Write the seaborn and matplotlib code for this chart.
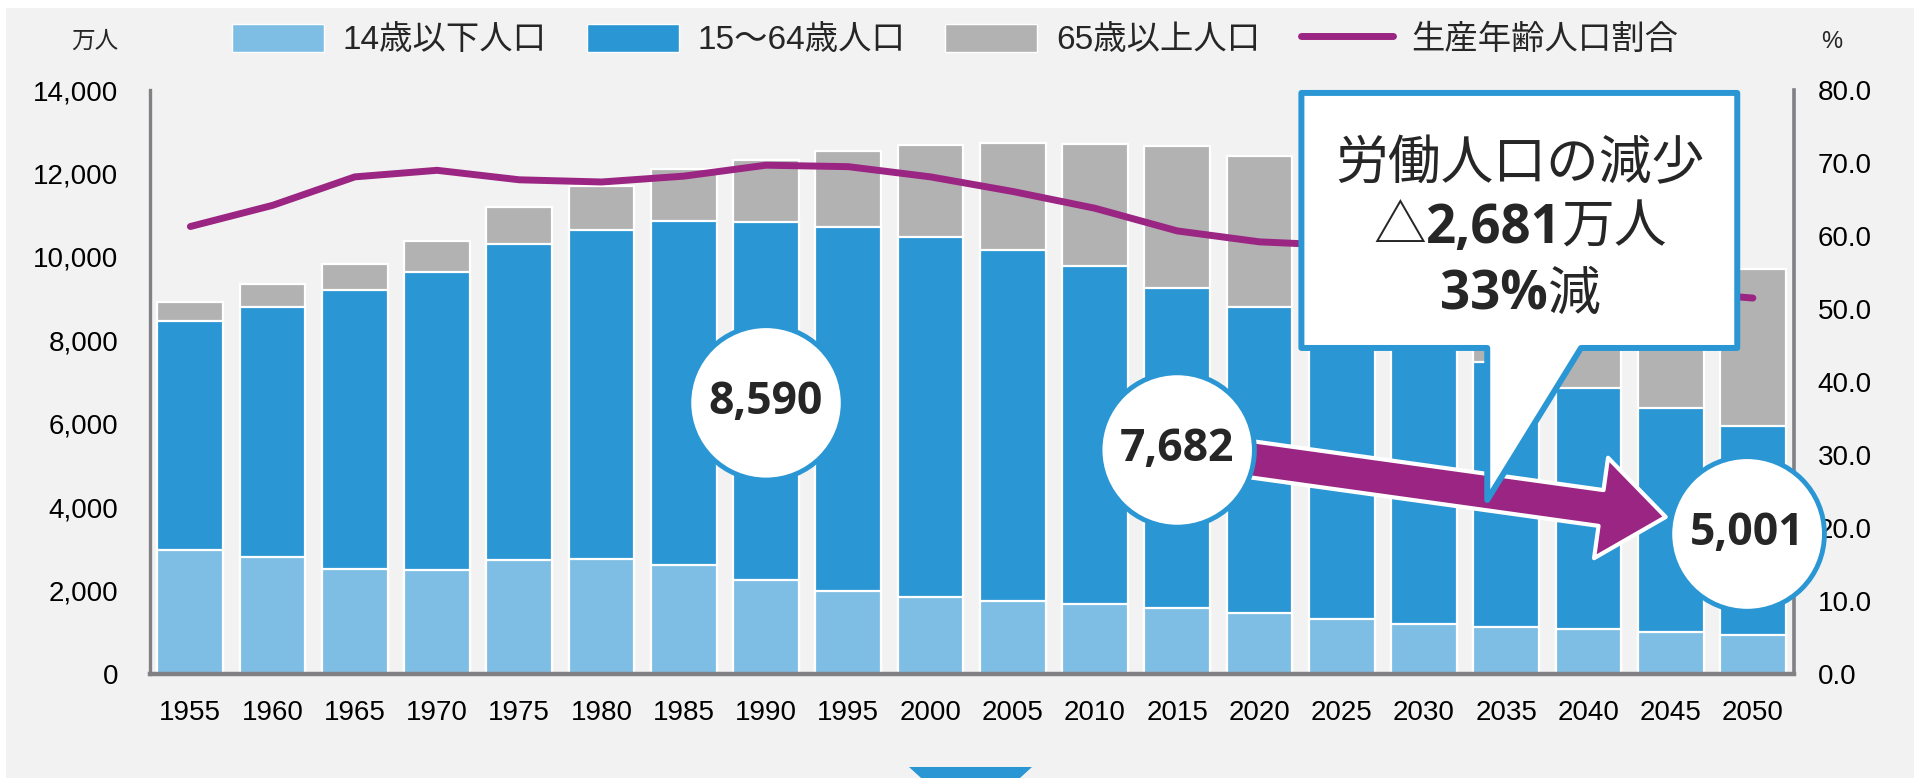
#生産年齢人口の推移 (1955-2050)
import numpy as np
import pandas as pd
import seaborn as sns
from matplotlib import pyplot as plt
from matplotlib.patches import Patch, Polygon, Rectangle, FancyArrowPatch
from matplotlib.lines import Line2D
from matplotlib.ticker import FuncFormatter, FormatStrFormatter

#data (万人)
years = ['1955', '1960', '1965', '1970', '1975', '1980', '1985', '1990', '1995', '2000',
         '2005', '2010', '2015', '2020', '2025', '2030', '2035', '2040', '2045', '2050']
young = [2980, 2807, 2517, 2482, 2722, 2751, 2603, 2249, 2001, 1847,
         1752, 1684, 1583, 1457, 1324, 1204, 1129, 1073, 1012, 939]
working = [5473, 6000, 6693, 7157, 7581, 7883, 8251, 8590, 8716, 8622,
           8409, 8103, 7682, 7341, 7085, 6773, 6343, 5787, 5353, 5001]
elderly = [475, 535, 618, 733, 887, 1065, 1247, 1489, 1826, 2201,
           2567, 2925, 3395, 3612, 3657, 3685, 3741, 3868, 3856, 3768]
#生産年齢人口割合 (%)
ratio = [61.3, 64.2, 68.1, 69.0, 67.7, 67.4, 68.2, 69.7, 69.5, 68.1,
         66.1, 63.8, 60.7, 59.2, 58.7, 58.1, 56.6, 53.9, 52.4, 51.5]
labels = ['14歳以下人口', '15～64歳人口', '65歳以上人口', '生産年齢人口割合']

light = '#7FBEE4'
blue = '#2A96D4'
gray = '#B2B2B2'
purple = '#9B2582'
bg = '#F2F2F2'
axis_col = '#808085'

sns.set_style('white')
plt.rcParams['font.family'] = ['Liberation Sans', 'Noto Sans CJK JP', 'DejaVu Sans']

df = pd.DataFrame({'year': years, 'young': young, 'working': working, 'elderly': elderly})
df['lower'] = df['young'] + df['working']
df['total'] = df['lower'] + df['elderly']

fig = plt.figure(figsize=(19.14, 7.78), dpi=100, facecolor=bg)
#white strips top / left
fig.add_artist(Rectangle((0, 1 - 8 / 778), 1, 8 / 778, transform=fig.transFigure, fc='white', ec='none'))
fig.add_artist(Rectangle((0, 0), 6 / 1914, 1, transform=fig.transFigure, fc='white', ec='none'))

ax = fig.add_axes([0.0784, 0.1337, 0.8589, 0.7506])
ax.set_facecolor(bg)

#stacked bars drawn back to front
for col, c in [('total', gray), ('lower', blue), ('young', light)]:
    sns.barplot(data=df, x='year', y=col, color=c, saturation=1, width=0.8,
                edgecolor='white', linewidth=1.6, errorbar=None, ax=ax)

ax2 = ax.twinx()
sns.lineplot(x=np.arange(len(years)), y=ratio, ax=ax2, color=purple, linewidth=5,
             solid_capstyle='round', zorder=2)

ax.set_xlim(-0.49, 19.5)
ax.set_ylim(0, 14000)
ax.set_yticks(range(0, 14001, 2000))
ax.yaxis.set_major_formatter(FuncFormatter(lambda v, p: f'{int(v):,}'))
ax2.set_ylim(0, 80)
ax2.set_yticks(range(0, 81, 10))
ax2.yaxis.set_major_formatter(FormatStrFormatter('%.1f'))
for a in (ax, ax2):
    a.set_xlabel('')
    a.set_ylabel('')
    for s in a.spines.values():
        s.set_visible(False)
ax.spines['left'].set_visible(True)
ax.spines['bottom'].set_visible(True)
ax2.spines['right'].set_visible(True)
ax.spines['left'].set_color(axis_col)
ax.spines['left'].set_linewidth(2.4)
ax.spines['bottom'].set_color(axis_col)
ax.spines['bottom'].set_linewidth(3.2)
ax2.spines['right'].set_color(axis_col)
ax2.spines['right'].set_linewidth(2.6)
ax.tick_params(axis='x', length=0, labelsize=20, pad=19, colors='black')
ax.tick_params(axis='y', length=0, labelsize=20, pad=23, colors='black')
ax2.tick_params(axis='y', length=0, labelsize=20, pad=17, colors='black')

#unit labels
fig.text(95 / 1914, 1 - 42 / 778, '万人', ha='center', va='center', fontsize=17)
fig.text(1832 / 1914, 1 - 42 / 778, '%', ha='center', va='center', fontsize=17)

#legend
handles = [Patch(fc=light), Patch(fc=blue), Patch(fc=gray), Line2D([], [], color=purple, lw=5)]
fig.legend(handles, labels, loc='center', bbox_to_anchor=(0.499, 1 - 40 / 778), ncol=4,
           frameon=False, fontsize=24, handlelength=2.76, handleheight=0.96,
           handletextpad=0.57, columnspacing=1.2)

#arrow 7,682 -> 5,001
arrow = FancyArrowPatch(posA=(12, 5394), posB=(17.94, 3764), transform=ax.transData,
                        arrowstyle='simple,head_length=0.47,head_width=0.73,tail_width=0.26',
                        mutation_scale=100, fc=purple, ec='white', lw=3,
                        shrinkA=0, shrinkB=0, zorder=4, clip_on=False)
ax2.add_patch(arrow)

#circles
for txt, xy in [('8,590', (7, 6500)), ('7,682', (12, 5370)), ('5,001', (18.93, 3357))]:
    ax2.annotate(txt, xy=xy, xycoords=ax.transData, ha='center', va='center',
                 fontsize=32, fontweight='bold', family=['Open Sans', 'DejaVu Sans'],
                 bbox=dict(boxstyle='circle,pad=0.45', fc='white', ec=blue, lw=3.5),
                 zorder=5, annotation_clip=False)

#callout
callout = Polygon([(13.51, 13930), (18.81, 13930), (18.81, 7816), (16.91, 7816),
                   (15.77, 4172), (15.77, 7816), (13.51, 7816)],
                  closed=True, transform=ax.transData, fc='white', ec=blue, lw=4.3,
                  joinstyle='round', zorder=6, clip_on=False)
ax2.add_patch(callout)


def mixed_line(x, y, parts, size):
    arts = []
    for s, bold in parts:
        fam = ['Open Sans', 'Noto Sans CJK JP'] if bold else ['Noto Sans CJK JP', 'DejaVu Sans']
        t = ax2.annotate(s, xy=(x, y), xycoords=ax.transData, xytext=(0, 0),
                         textcoords='offset points', ha='left', va='baseline',
                         fontsize=size, fontweight='bold' if bold else 'normal',
                         family=fam, zorder=7, annotation_clip=False)
        arts.append(t)
    r = fig.canvas.get_renderer()
    w = [t.get_window_extent(r).width * 72 / fig.dpi for t in arts]
    off = -sum(w) / 2
    for t, wi in zip(arts, w):
        t.xyann = (off, 0)
        off += wi


mixed_line(16.17, 11868, [('労働人口の減少', False)], 38)
mixed_line(16.17, 10333, [('△', False), ('2,681', True), ('万人', False)], 38)
mixed_line(16.17, 8727, [('33%', True), ('減', False)], 38)

#small marker at bottom
fig.add_artist(Polygon([(909 / 1914, 1 - 767 / 778), (1032 / 1914, 1 - 767 / 778),
                        (970.5 / 1914, -0.058)], closed=True, transform=fig.transFigure,
                       fc=blue, ec='none'))

plt.savefig('out.png', dpi=100, facecolor=bg)
